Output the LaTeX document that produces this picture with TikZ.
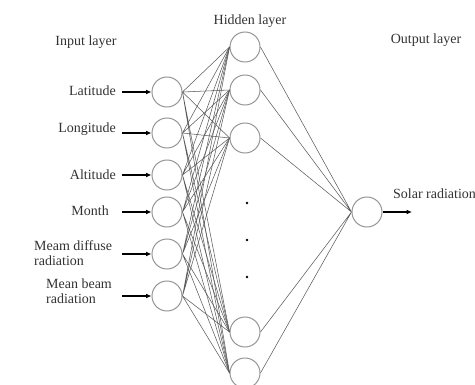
\documentclass[tikz,border=0pt]{standalone}
\usepackage{fontspec}
\setmainfont{Liberation Serif}
\usetikzlibrary{arrows.meta}

\tikzset{every picture/.style={line width=0.75pt}}
\tikzset{
	neuron/.style={circle, draw={rgb, 255:red, 150; green, 150; blue, 150}, minimum size=22.5pt, inner sep=0pt},
	wire/.style={draw={rgb, 255:red, 90; green, 90; blue, 90}, line width=0.4pt},
	inarrow/.style={line width=1.3pt, -{Latex[length=4pt,width=3.5pt]}},
	lbl/.style={font=\fontsize{10.5}{11.5}\selectfont, text={rgb, 255:red, 50; green, 50; blue, 50}, inner sep=2pt},
}

\begin{document}
\begin{tikzpicture}[x=0.75pt,y=0.75pt,yscale=-1,xscale=1]
	\useasboundingbox (0,0) rectangle (475,385);

	%Layer titles
	\node[lbl] (intitle) at (86,42) {Input layer};
	\node[lbl] (hidtitle) at (250,21) {Hidden layer};
	\node[lbl] (outtitle) at (426,40) {Output layer};

	%Shape: Circle (input layer)
	\node[neuron] (lat) at (167,92) {};
	\node[neuron] (lon) at (167,133) {};
	\node[neuron] (alt) at (167,175) {};
	\node[neuron] (mon) at (167,212) {};
	\node[neuron] (mdr) at (167,254) {};
	\node[neuron] (mbr) at (167,296) {};

	%Shape: Circle (hidden layer)
	\node[neuron] (h1) at (245,47) {};
	\node[neuron] (h2) at (245,90) {};
	\node[neuron] (h3) at (245,138) {};
	\node[neuron] (h4) at (245,332) {};
	\node[neuron] (h5) at (245,373) {};

	%Shape: Circle (output layer)
	\node[neuron] (out) at (367,212) {};

	%Dots
	\fill (247,203) circle (1.3);
	\fill (247,240) circle (1.3);
	\fill (247,277) circle (1.3);

	%Text Node (inputs)
	\node[lbl, anchor=east] (latlbl) at (119,91) {Latitude};
	\node[lbl, anchor=east] (lonlbl) at (119,129) {Longitude};
	\node[lbl, anchor=east] (altlbl) at (119,175) {Altitude};
	\node[lbl, anchor=east] (monlbl) at (112,211) {Month};
	\node[lbl, anchor=west, align=left] (mdrlbl) at (31,253) {Meam diffuse\\radiation};
	\node[lbl, anchor=west, align=left] (mbrlbl) at (43,291) {Mean beam\\radiation};

	%Straight Lines (input arrows)
	\draw[inarrow] (lat.west -| 122,0) -- (lat.west);
	\draw[inarrow] (lon.west -| 122,0) -- (lon.west);
	\draw[inarrow] (alt.west -| 122,0) -- (alt.west);
	\draw[inarrow] (mon.west -| 122,0) -- (mon.west);
	\draw[inarrow] (mdr.west -| 122,0) -- (mdr.west);
	\draw[inarrow] (mbr.west -| 122,0) -- (mbr.west);

	%Straight Lines (input to hidden)
	\draw[wire] (lat.east) -- (h1.west) (lat.east) -- (h2.west) (lat.east) -- (h3.west) (lat.east) -- (h4.west) (lat.east) -- (h5.west);
	\draw[wire] (lon.east) -- (h1.west) (lon.east) -- (h2.west) (lon.east) -- (h3.west) (lon.east) -- (h4.west) (lon.east) -- (h5.west);
	\draw[wire] (alt.east) -- (h1.west) (alt.east) -- (h2.west) (alt.east) -- (h3.west) (alt.east) -- (h4.west) (alt.east) -- (h5.west);
	\draw[wire] (mon.east) -- (h1.west) (mon.east) -- (h2.west) (mon.east) -- (h3.west) (mon.east) -- (h4.west) (mon.east) -- (h5.west);
	\draw[wire] (mdr.east) -- (h1.west) (mdr.east) -- (h2.west) (mdr.east) -- (h3.west) (mdr.east) -- (h4.west) (mdr.east) -- (h5.west);
	\draw[wire] (mbr.east) -- (h1.west) (mbr.east) -- (h2.west) (mbr.east) -- (h3.west) (mbr.east) -- (h4.west) (mbr.east) -- (h5.west);

	%Straight Lines (hidden to output)
	\draw[wire] (h1.east) -- (out.west) (h2.east) -- (out.west) (h3.east) -- (out.west) (h4.east) -- (out.west) (h5.east) -- (out.west);

	%Output arrow
	\coordinate (outend) at (412,212);
	\draw[inarrow, line width=1pt] (out.east) -- (outend);
	\node[lbl, anchor=west] (solar) at (390,194) {Solar radiation};

\end{tikzpicture}
\end{document}
